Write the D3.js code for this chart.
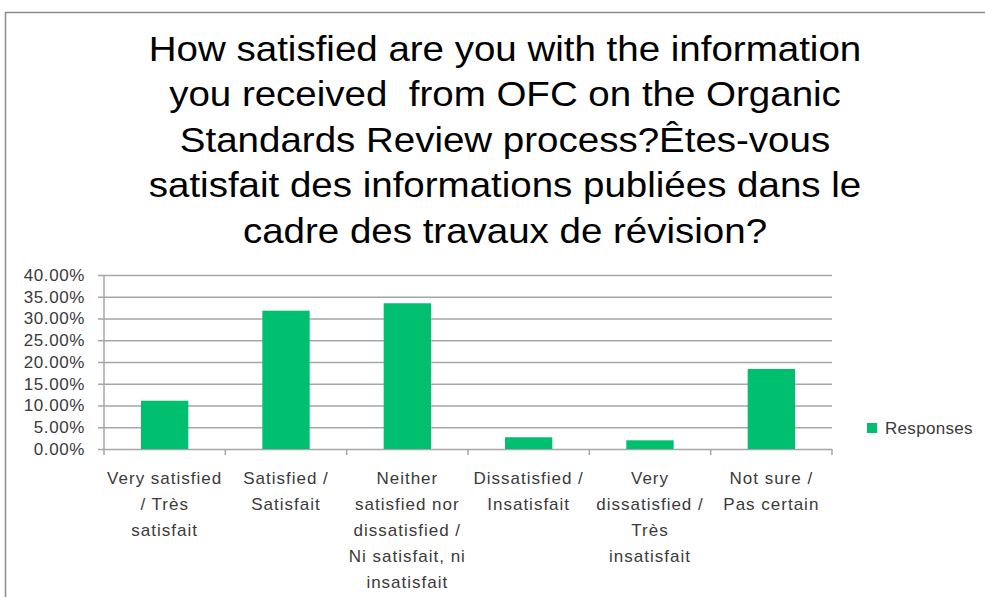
<!DOCTYPE html>
<html>
<head>
<meta charset="utf-8">
<script src="https://cdn.jsdelivr.net/npm/d3@7"></script>
<style>
  body { margin: 0; background: #fff; }
  svg { display: block; }
</style>
</head>
<body>
<div id="chart"></div>
<script>
// chart values
const titleLines = [
    "How satisfied are you with the information",
    "you received  from OFC on the Organic",
    "Standards Review process?Êtes-vous",
    "satisfait des informations publiées dans le",
    "cadre des travaux de révision?"
];
const categories = [
    ["Very satisfied", "/ Très", "satisfait"],
    ["Satisfied /", "Satisfait"],
    ["Neither", "satisfied nor", "dissatisfied /", "Ni satisfait, ni", "insatisfait"],
    ["Dissatisfied /", "Insatisfait"],
    ["Very", "dissatisfied /", "Très", "insatisfait"],
    ["Not sure /", "Pas certain"]
];
const responses = [11.1, 31.8, 33.5, 2.7, 2.0, 18.4];
const yTicks = [0, 5, 10, 15, 20, 25, 30, 35, 40];
const seriesName = "Responses";

const W = 985, H = 597;
const margin = {top: 275, right: 153, bottom: 148, left: 104};
const width = W - margin.left - margin.right,
    height = H - margin.top - margin.bottom;

const svg = d3.select("#chart")
    .append("svg")
    .attr("width", W)
    .attr("height", H);

// chart frame
svg.append("rect")
    .attr("x", 5.5).attr("y", 12.5)
    .attr("width", 1000).attr("height", 620)
    .attr("fill", "none")
    .attr("stroke", "#8c8c8c")
    .attr("stroke-width", 1.5);

// title (the source picture is a little stretched sideways)
svg.append("g")
    .attr("transform", "translate(505,0) scale(1.1,1)")
    .append("text")
    .attr("text-anchor", "middle")
    .style("font-family", "'Liberation Sans', Arial, sans-serif")
    .style("font-size", "35px")
    .attr("fill", "#000")
    .selectAll("tspan")
    .data(titleLines)
    .enter()
    .append("tspan")
    .attr("x", 0)
    .attr("y", (d, i) => 61 + i * 45.5)
    .style("white-space", "pre")
    .text(d => d);

const g = svg.append("g")
    .attr("transform", "translate(" + margin.left + "," + margin.top + ")");

const x = d3.scaleBand()
    .domain(d3.range(categories.length))
    .range([0, width])
    .paddingInner(0.61)
    .paddingOuter(0.305);

const y = d3.scaleLinear()
    .domain([0, 40])
    .range([height, 0]);

const labelFont = "'Liberation Sans', Arial, sans-serif";
const labelSize = "17px";
const labelSpacing = "1px";

// gridlines + y axis
const yAxis = g.append("g")
    .call(d3.axisLeft(y)
        .tickValues(yTicks)
        .tickSize(-width - 6)
        .tickFormat(d => d.toFixed(2) + "%"))
    .attr("transform", "translate(-6,0)");
yAxis.select(".domain").remove();
yAxis.selectAll(".tick line")
    .attr("stroke", "#a6a6a6")
    .attr("stroke-width", 1.5);
yAxis.selectAll(".tick text")
    .attr("x", -13)
    .attr("fill", "#3a3a3a")
    .style("font-family", labelFont)
    .style("font-size", labelSize)
    .style("letter-spacing", "0.6px");

// left axis line
g.append("line")
    .attr("x1", 0).attr("x2", 0)
    .attr("y1", 0).attr("y2", height)
    .attr("stroke", "#a6a6a6")
    .attr("stroke-width", 1.5);

// category ticks at band boundaries
const step = x.step();
g.selectAll("line.ctick")
    .data(d3.range(categories.length + 1))
    .enter()
    .append("line")
    .attr("class", "ctick")
    .attr("x1", d => d * step).attr("x2", d => d * step)
    .attr("y1", height).attr("y2", height + 6)
    .attr("stroke", "#a6a6a6")
    .attr("stroke-width", 1.5);

// bars
g.selectAll("rect.bar")
    .data(responses)
    .enter()
    .append("rect")
    .attr("class", "bar")
    .attr("x", (d, i) => x(i))
    .attr("y", d => y(d))
    .attr("width", x.bandwidth())
    .attr("height", d => height - y(d))
    .attr("fill", "#00bf6f");

// category labels
const catLabels = g.selectAll("text.cat")
    .data(categories)
    .enter()
    .append("text")
    .attr("class", "cat")
    .attr("text-anchor", "middle")
    .attr("fill", "#3a3a3a")
    .style("font-family", labelFont)
    .style("font-size", labelSize)
    .style("letter-spacing", labelSpacing);
catLabels.selectAll("tspan")
    .data((d, i) => d.map(t => ({t: t, i: i})))
    .enter()
    .append("tspan")
    .attr("x", d => x(d.i) + x.bandwidth() / 2)
    .attr("y", (d, j) => height + 35 + j * 26)
    .text(d => d.t);

// legend
const legend = svg.append("g")
    .attr("transform", "translate(867,423)");
legend.append("rect")
    .attr("width", 10).attr("height", 10)
    .attr("fill", "#00bf6f");
legend.append("text")
    .attr("x", 18).attr("y", 11)
    .attr("fill", "#3a3a3a")
    .style("font-family", labelFont)
    .style("font-size", labelSize)
    .style("letter-spacing", "0.3px")
    .text(seriesName);
</script>
</body>
</html>
